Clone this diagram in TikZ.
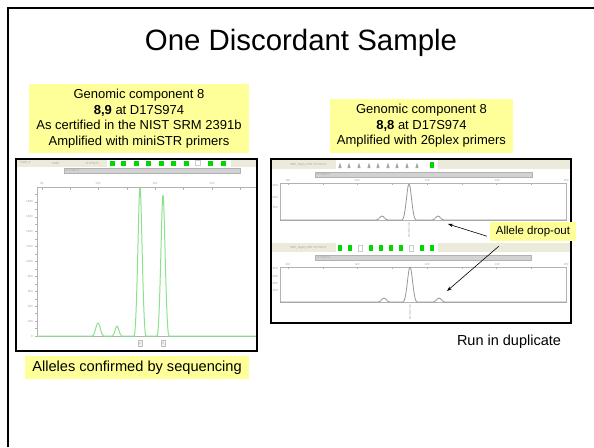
\documentclass[tikz,border=0pt]{standalone}
\usepackage{fontspec}
\setmainfont{Liberation Sans}
\usetikzlibrary{arrows.meta,calc}

\definecolor{noteyellow}{RGB}{255,255,153}
\definecolor{hdrbeige}{RGB}{236,234,218}
\definecolor{peakgreen}{RGB}{140,225,140}
\definecolor{binGreen}{RGB}{0,215,0}
\definecolor{tracegray}{RGB}{150,150,150}

\tikzset{
  note/.style={fill=noteyellow, inner sep=0pt, align=center},
  chartframe/.style={draw=black, line width=1.6pt},
  hdrstrip/.style={fill=hdrbeige},
  markerbar/.style={fill=gray!35, draw=gray!60, line width=0.4pt},
  plotline/.style={draw=gray!60, line width=0.5pt},
  tinylbl/.style={font=\fontsize{3}{3}\selectfont, text=gray!70, inner sep=0pt},
  binsq/.style={fill=binGreen, draw=none},
  pointer/.style={draw=black, line width=0.6pt, -{Stealth[length=5pt,width=3.5pt]}}
}

\begin{document}
\begin{tikzpicture}[x=1pt,y=-1pt]
\useasboundingbox (0,0) rectangle (594,447);
\fill[white] (0,0) rectangle (594,447);

% slide frame
\draw[line width=2.6pt] (8,447) -- (8,8) -- (594,8);

% title
\node[anchor=base, font=\fontsize{29.4}{32}\selectfont] (title) at (301,50) {One Discordant Sample};

% ---------- left chart (miniSTR) ----------
\fill[hdrstrip] (17,160) rectangle (256,166.5);
\fill[white] (107,160) rectangle (231,166.5);
\node[tinylbl, anchor=west] (lh1) at (20,163) {5308\_8};
\node[tinylbl, anchor=west] (lh2) at (52,163) {5309};
\node[tinylbl, anchor=west] (lh3) at (86,163) {D17S974};
\foreach \x in {112,123,136,148,161,173,186,210,223}
  \fill[binsq] (\x-2.5,160.5) rectangle (\x+2.5,165.5);
\draw[gray!40, line width=0.3pt] (195.5,160.5) rectangle (200.5,165.5);
\draw[markerbar] (64,168) rectangle (240,173);
\node[tinylbl, anchor=west] (lbar) at (66,170.5) {D17S974};
% axes
\draw[plotline] (37,187) -- (257,187);
\draw[plotline] (37,187) -- (37,336) -- (257,336);
\foreach \k in {0,...,7}
  \draw[plotline] ({42+28.3*\k},187) -- ({42+28.3*\k},189.5);
\foreach \x/\t in {42/90,98/100,155/110,212/120}
  \node[tinylbl] at (\x,183) {\t};
\foreach \k in {0,...,19}
  \draw[plotline] (37,{336-7.45*\k}) -- (35,{336-7.45*\k});
\foreach \k/\t in {0/0,1/200,2/400,3/600,4/800,5/1000,6/1200,7/1400,8/1600,9/1800}
  \node[tinylbl, anchor=east] at (33,{336-14.9*\k}) {\t};
% trace
\draw[peakgreen, line width=1pt, line join=round]
  (37,336) -- (92,336)
  .. controls (95,336) and (96.2,323) .. (98,323)
  .. controls (99.8,323) and (101,336) .. (104,336)
  -- (112,336)
  .. controls (114.5,336) and (115.5,326) .. (117,326)
  .. controls (118.5,326) and (119.5,336) .. (122,336)
  -- (134,336)
  .. controls (137,336) and (138.5,187) .. (140,187)
  .. controls (141.5,187) and (143,336) .. (146,336)
  -- (157,336)
  .. controls (160,336) and (161.5,195) .. (163,195)
  .. controls (164.5,195) and (166,336) .. (169,336)
  -- (257,336);
\foreach \x/\t in {140/8,163/9}{
  \draw[gray!50, fill=gray!10, line width=0.3pt] (\x-1.8,340) rectangle (\x+1.8,346);
  \node[tinylbl] at (\x,343) {\t};
}
\draw[chartframe] (16,159) rectangle (257,351);

% ---------- right chart (26plex, duplicate runs) ----------
% run 1
\fill[hdrstrip] (272,160) rectangle (570,169);
\fill[white] (336,160) rectangle (438,169);
\node[tinylbl, anchor=west] (rh1) at (290,164.5) {SNP\_Ngbs\_P08\ \ D17S974};
\foreach \x in {340,349,359,369,378,388,397,407,417}
  \fill[gray!70] (\x-1.6,168) -- (\x,162.5) -- (\x+1.6,168) -- cycle;
\fill[binsq] (430,162) rectangle (434,168);
\draw[markerbar] (315,172) rectangle (532,177);
\node[tinylbl, anchor=west] (rbar1) at (317,174.5) {D17S974};
\draw[plotline] (280,183) rectangle (566,220);
\foreach \k in {0,...,8}
  \draw[plotline] ({288+34.75*\k},183) -- ({288+34.75*\k},185);
\foreach \x/\t in {288/110,357/120,427/130,497/140,566/150}
  \node[tinylbl] at (\x,180) {\t};
\foreach \y/\t in {185/1500,197/1000,207/500}
  \node[tinylbl, anchor=east] at (278,\y) {\t};
\draw[tracegray, line width=0.8pt, line join=round]
  (280,220) -- (376,220)
  .. controls (379,220) and (380,216) .. (382,216)
  .. controls (384,216) and (385,220) .. (388,220)
  -- (402,220)
  .. controls (405.5,220) and (407,184) .. (409,184)
  .. controls (411,184) and (412.5,220) .. (416,220)
  -- (432,220)
  .. controls (435,220) and (436,216) .. (438,216)
  .. controls (440,216) and (441,220) .. (444,220)
  -- (566,220);
\node[tinylbl, rotate=90] (al1) at (409,230) {D17S974 8};

% run 2
\fill[hdrstrip] (272,243) rectangle (570,252);
\fill[white] (336,243) rectangle (438,252);
\node[tinylbl, anchor=west] (rh2) at (290,247.5) {SNP\_Ngbs\_P08\ \ D17S974};
\foreach \x in {340,350,371,381,391,401,422,432}
  \fill[binsq] (\x-2,245) rectangle (\x+2,251);
\foreach \x in {360,411}
  \draw[gray!40, line width=0.3pt] (\x-2,245) rectangle (\x+2,251);
\draw[markerbar] (315,255) rectangle (531,260);
\node[tinylbl, anchor=west] (rbar2) at (317,257.5) {D17S974};
\draw[plotline] (280,267) rectangle (566,302);
\foreach \k in {0,...,8}
  \draw[plotline] ({288+34.75*\k},267) -- ({288+34.75*\k},269);
\foreach \x/\t in {288/110,357/120,427/130,497/140,566/150}
  \node[tinylbl] at (\x,264) {\t};
\foreach \y/\t in {268/1600,276/1200,283/800,290/400}
  \node[tinylbl, anchor=east] at (278,\y) {\t};
\draw[tracegray, line width=0.8pt, line join=round]
  (280,302) -- (378,302)
  .. controls (381,302) and (382,298) .. (384,298)
  .. controls (386,298) and (387,302) .. (390,302)
  -- (403,302)
  .. controls (406.5,302) and (408,267) .. (410,267)
  .. controls (412,267) and (413.5,302) .. (417,302)
  -- (433,302)
  .. controls (436,302) and (437,298) .. (439,298)
  .. controls (441,298) and (442,302) .. (445,302)
  -- (566,302);
\node[tinylbl, rotate=90] (al2) at (410,312) {D17S974 8};
\draw[chartframe] (271,159) rectangle (571,323);

% ---------- notes ----------
\node[note, minimum width=220pt, minimum height=69pt,
      font=\fontsize{13}{15.5}\selectfont] (leftnote) at (139,118.5)
  {Genomic component 8\\ \textbf{8,9} at D17S974\\ As certified in the NIST SRM 2391b\\ Amplified with miniSTR primers};

\node[note, minimum width=183pt, minimum height=54pt,
      font=\fontsize{13}{15.5}\selectfont] (rightnote) at (421.5,126)
  {Genomic component 8\\ \textbf{8,8} at D17S974\\ Amplified with 26plex primers};

\node[note, minimum width=224pt, minimum height=23pt,
      font=\fontsize{14.6}{17}\selectfont] (seqnote) at (137,367.5)
  {Alleles confirmed by sequencing};

\node[note, minimum width=86pt, minimum height=19pt,
      font=\fontsize{11.5}{13}\selectfont] (drop) at (533,231.5)
  {Allele drop-out};

\node[font=\fontsize{14.5}{17}\selectfont, inner sep=0pt] (dup) at (509,342)
  {Run in duplicate};

% pointers from the drop-out note to the missing allele positions
\coordinate (miss1) at (448,224);
\coordinate (miss2) at (447,291);
\draw[pointer] ($(drop.south west)+(-3,-5)$) -- (miss1);
\draw[pointer] ($(drop.south west)+(9,5)$) -- (miss2);
\end{tikzpicture}
\end{document}
